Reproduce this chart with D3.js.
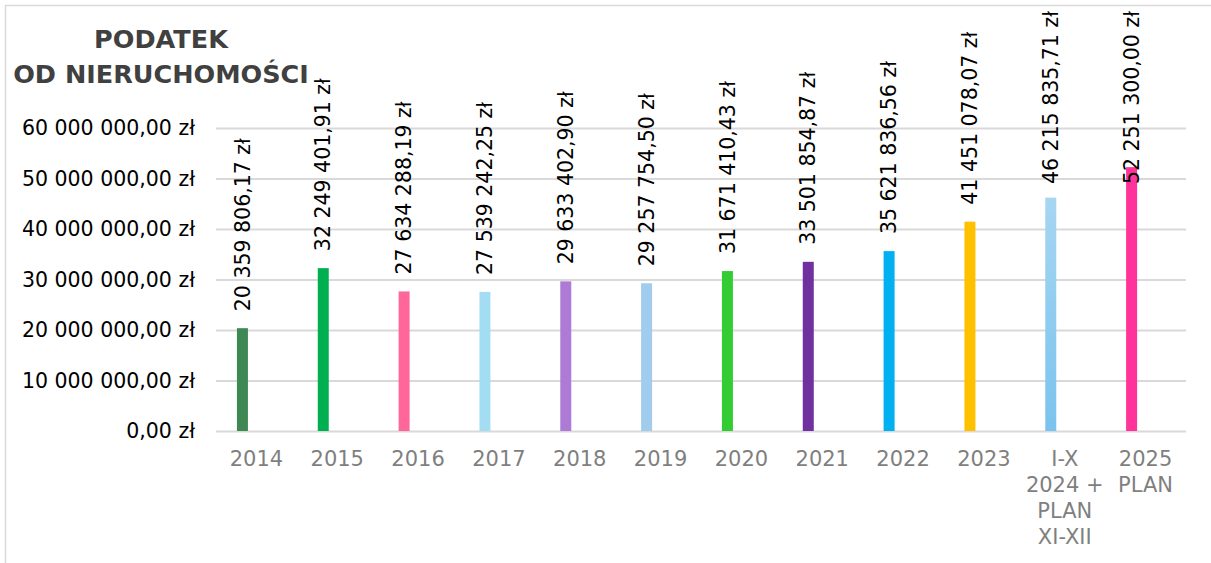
<!DOCTYPE html>
<html lang="pl">
  <head>
    <meta charset="utf-8">
    <title>Podatek od nieruchomości</title>
    <script src="https://cdn.jsdelivr.net/npm/d3@7"></script>
    <style>
      body { margin: 0; background: #fff; }
      svg { display: block; font-family: 'DejaVu Sans', sans-serif; }
    </style>
  </head>
  <body>
    <div id="chart"></div>

    <script type="text/javascript">
      // data
      let categories = [
        ['2014'], ['2015'], ['2016'], ['2017'], ['2018'], ['2019'],
        ['2020'], ['2021'], ['2022'], ['2023'],
        ['I-X', '2024 +', 'PLAN', 'XI-XII'],
        ['2025', 'PLAN']
      ];
      let values = [
        20359806.17, 32249401.91, 27634288.19, 27539242.25, 29633402.90, 29257754.50,
        31671410.43, 33501854.87, 35621836.56, 41451078.07, 46215835.71, 52251300.00
      ];
      let colors = [
        '#3e8853', '#00b050', '#ff6699', '#a3ddf3', '#ad7bd6', '#a2ccee',
        '#33cc33', '#7030a0', '#00b0f0', '#ffc000', 'url(#grad2024)', '#ff3399'
      ];
      let yTicks = [0, 10000000, 20000000, 30000000, 40000000, 50000000, 60000000];
      let titleLines = ['PODATEK', 'OD NIERUCHOMOŚCI'];

      let width = 1211, height = 563;
      let margin = {top: 128, right: 25, bottom: 132, left: 216};

      let svg = d3.select('#chart').append('svg')
        .attr('width', width)
        .attr('height', height);

      let defs = svg.append('defs');
      let grad = defs.append('linearGradient')
        .attr('id', 'grad2024')
        .attr('x1', 0).attr('y1', 0).attr('x2', 0).attr('y2', 1);
      grad.append('stop').attr('offset', '0%').attr('stop-color', '#a6d6f2');
      grad.append('stop').attr('offset', '100%').attr('stop-color', '#7ac3ee');

      // chart area border (runs off the page on the right and bottom)
      svg.append('rect')
        .attr('x', 5.5).attr('y', 5.5)
        .attr('width', 1400).attr('height', 800)
        .attr('fill', 'none')
        .attr('stroke', '#d9d9d9')
        .attr('stroke-width', 1.5);

      let x = d3.scaleBand()
        .domain(d3.range(categories.length))
        .range([margin.left, width - margin.right])
        .padding(0);

      let y = d3.scaleLinear()
        .domain([0, 60000000])
        .range([height - margin.bottom, margin.top]);

      let locale = d3.formatLocale({decimal: ',', thousands: ' ', grouping: [3], currency: ['', ' zł']});
      let fmt = locale.format('$,.2f');

      // gridlines + value axis labels
      let yAxis = svg.append('g')
        .attr('transform', 'translate(' + margin.left + ',0)')
        .call(d3.axisLeft(y).tickValues(yTicks).tickFormat(fmt)
          .tickSize(-(width - margin.left - margin.right)).tickPadding(21))
        .attr('font-family', null)
        .attr('font-size', 20.5);
      yAxis.select('.domain').remove();
      yAxis.selectAll('.tick line')
        .attr('stroke', '#d9d9d9')
        .attr('stroke-width', 2);
      yAxis.selectAll('.tick text')
        .attr('fill', '#000');

      let barW = x.bandwidth() * 0.136;
      let barCx = (i) => x(i) + x.bandwidth() / 2 - x.bandwidth() * 0.173;

      svg.append('g').selectAll('rect')
        .data(values)
        .join('rect')
        .attr('x', (d, i) => barCx(i) - barW / 2)
        .attr('y', (d) => y(d))
        .attr('width', barW)
        .attr('height', (d) => y(0) - y(d))
        .attr('fill', (d, i) => colors[i]);

      // category labels
      let cat = svg.append('g').selectAll('text')
        .data(categories)
        .join('text')
        .attr('text-anchor', 'middle')
        .attr('fill', '#7f7f7f')
        .attr('font-size', 21)
        .attr('x', (d, i) => x(i) + x.bandwidth() / 2)
        .attr('y', 466);
      cat.selectAll('tspan')
        .data((d) => d)
        .join('tspan')
        .attr('x', function () { return d3.select(this.parentNode).attr('x'); })
        .attr('dy', (d, i) => i === 0 ? 0 : 26)
        .text((d) => d);

      // value labels, rotated, pushed down when they would leave the top
      let labels = svg.append('g').selectAll('text')
        .data(values)
        .join('text')
        .attr('font-size', 20.5)
        .attr('fill', '#000')
        .attr('text-anchor', 'start')
        .attr('dy', '0.35em')
        .text((d) => fmt(d));
      labels.each(function (d, i) {
        let len = this.getComputedTextLength();
        let yy = Math.max(y(d) - 17, 11 + len);
        d3.select(this).attr('transform', 'translate(' + barCx(i) + ',' + yy + ') rotate(-90)');
      });

      // title
      svg.append('text')
        .attr('text-anchor', 'middle')
        .attr('font-weight', 'bold')
        .attr('font-size', 25.5)
        .attr('fill', '#404040')
        .selectAll('tspan')
        .data(titleLines)
        .join('tspan')
        .attr('x', 161)
        .attr('y', (d, i) => 48 + i * 35)
        .text((d) => d);
    </script>
  </body>
</html>
